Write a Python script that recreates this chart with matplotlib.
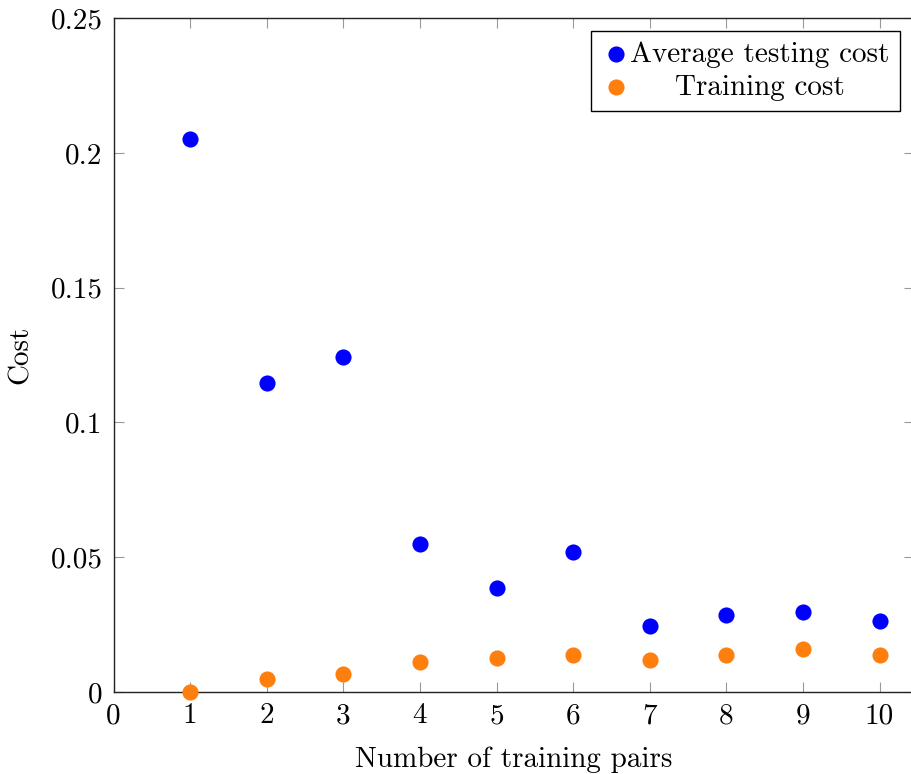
import matplotlib
matplotlib.use('Agg')
import matplotlib.pyplot as plt

# data
pairs = [1, 2, 3, 4, 5, 6, 7, 8, 9, 10]
testing_cost = [0.2051, 0.1146, 0.1243, 0.0549, 0.0386, 0.0519, 0.0245, 0.0284, 0.0297, 0.0262]
training_cost = [0.0, 0.0048, 0.0068, 0.0111, 0.0126, 0.0137, 0.0119, 0.0136, 0.0161, 0.0137]

x_ticks = [0, 1, 2, 3, 4, 5, 6, 7, 8, 9, 10]
y_ticks = [0, 0.05, 0.1, 0.15, 0.2, 0.25]
y_tick_labels = ['0', '0.05', '0.1', '0.15', '0.2', '0.25']

plt.rcParams['font.family'] = 'serif'
plt.rcParams['font.serif'] = ['cmr10']
plt.rcParams['mathtext.fontset'] = 'cm'
plt.rcParams['axes.unicode_minus'] = False

fs = 21

fig = plt.figure(figsize=(9.11, 7.74), dpi=100)
ax = fig.add_axes([0.1247, 0.1059, 0.8786, 0.8708])

ax.scatter(pairs, testing_cost, s=135, color='#0000ff', label='Average testing cost',
           zorder=3, clip_on=False, linewidths=0)
ax.scatter(pairs, training_cost, s=135, color='#ff7f0e', label='Training cost',
           zorder=3, clip_on=False, linewidths=0)

ax.set_xlim(0, 10.45)
ax.set_ylim(0, 0.25)
ax.set_xticks(x_ticks)
ax.set_xticklabels([str(t) for t in x_ticks])
ax.set_yticks(y_ticks)
ax.set_yticklabels(y_tick_labels)

ax.tick_params(direction='in', length=7.5, width=0.8, color='#999999',
               top=True, right=True, labelsize=fs, pad=8)
for s in ax.spines.values():
    s.set_linewidth(1.0)
    s.set_color('#222222')

ax.set_xlabel('Number of training pairs', fontsize=fs, labelpad=12)
ax.set_ylabel('Cost', fontsize=fs, labelpad=12)

leg = ax.legend(loc='upper right', bbox_to_anchor=(0.9825, 0.9807), fontsize=fs,
                fancybox=False, framealpha=1, edgecolor='black',
                handletextpad=0.0, handlelength=1.0, borderpad=0.35,
                labelspacing=0.22, borderaxespad=0.0)
leg.get_frame().set_linewidth(1.0)

# centre the shorter legend entry, like the pgfplots legend
fig.canvas.draw()
r = fig.canvas.get_renderer()
texts = leg.get_texts()
widths = [t.get_window_extent(r).width for t in texts]
wmax = max(widths)
for t, w in zip(texts, widths):
    t.set_x((wmax - w) / 2)

fig.savefig('out.png', dpi=100)
